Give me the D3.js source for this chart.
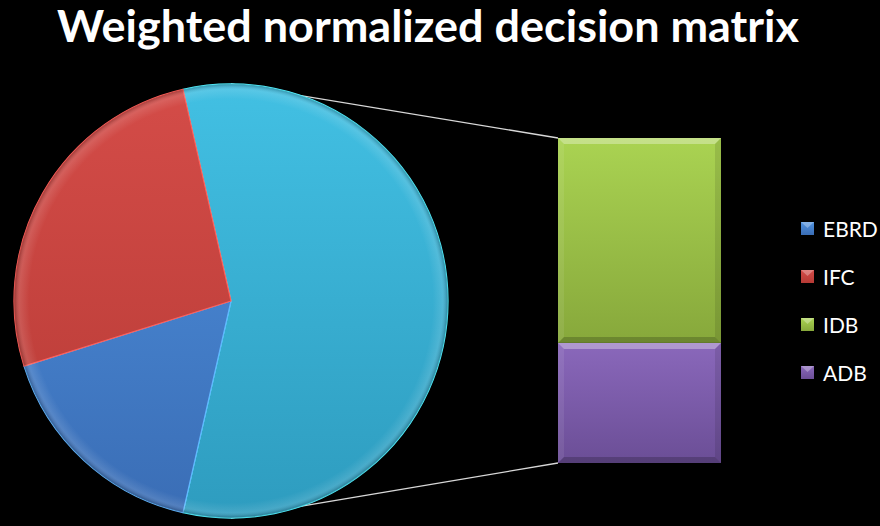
<!DOCTYPE html>
<html>
<head>
<meta charset="utf-8">
<script src="https://cdn.jsdelivr.net/npm/d3@7"></script>
<style>
  html, body { margin: 0; padding: 0; background: #000; }
  svg { display: block; }
</style>
</head>
<body>
<div id="viz"></div>
<script>
// Chart data (shares)
const pieLabels = ["Other", "EBRD", "IFC"];
const barLabels = ["ADB", "IDB"];           // stacked bottom to top
const barValues = [0.211, 0.360];
const pieValues = [d3.sum(barValues), 0.166, 0.263];
const legendLabels = ["EBRD", "IFC", "IDB", "ADB"];

const colors = {
    Other: ["#42c0e3", "#2e9cbf"],
    EBRD: ["#4f92e0", "#3a6db5"],
    IFC: ["#d44c48", "#b63a35"],
    IDB: ["#aad352", "#87a83b"],
    ADB: ["#8a68bb", "#6b4e96"]
};

const width = 880;
const height = 526;
const pieCenter = { x: 231, y: 301 };
const radius = 217;
const bar = { x0: 558, x1: 721, top: 138, bottom: 463 };

const svg = d3.select("#viz")
    .append("svg")
    .attr("width", width)
    .attr("height", height)
    .style("background", "#000");

const defs = svg.append("defs");

// Vertical gradients, light at top
Object.keys(colors).forEach(k => {
    const g = defs.append("linearGradient")
        .attr("id", "grad-" + k)
        .attr("x1", 0).attr("y1", 0).attr("x2", 0).attr("y2", 1);
    g.append("stop").attr("offset", "0%").attr("stop-color", colors[k][0]);
    g.append("stop").attr("offset", "100%").attr("stop-color", colors[k][1]);
});

// Pie slices share one gradient across the whole pie
Object.keys(colors).forEach(k => {
    const g = defs.append("linearGradient")
        .attr("id", "pgrad-" + k)
        .attr("gradientUnits", "userSpaceOnUse")
        .attr("x1", 0).attr("y1", -radius).attr("x2", 0).attr("y2", radius);
    g.append("stop").attr("offset", "0%").attr("stop-color", colors[k][0]);
    g.append("stop").attr("offset", "100%").attr("stop-color", colors[k][1]);
});

// Rim bevel for pie
const rim = defs.append("radialGradient").attr("id", "rim")
    .attr("cx", 0.5).attr("cy", 0.5).attr("r", 0.5);
rim.append("stop").attr("offset", "0.93").attr("stop-color", "#fff").attr("stop-opacity", 0);
rim.append("stop").attr("offset", "0.975").attr("stop-color", "#fff").attr("stop-opacity", 0.12);
rim.append("stop").attr("offset", "1").attr("stop-color", "#000").attr("stop-opacity", 0.25);

// Title
svg.append("text")
    .attr("x", 428)
    .attr("y", 42)
    .attr("text-anchor", "middle")
    .attr("fill", "#fff")
    .attr("font-family", "Lato, 'Open Sans', sans-serif")
    .attr("font-weight", "bold")
    .attr("font-size", 44)
    .attr("textLength", 742)
    .attr("lengthAdjust", "spacingAndGlyphs")
    .text("Weighted normalized decision matrix");

// Bar scale
const yScale = d3.scaleLinear()
    .domain([0, d3.sum(barValues)])
    .range([bar.bottom, bar.top]);

// Connector lines (behind the pie)
svg.append("g")
    .selectAll("line")
    .data([[bar.top, -radius], [bar.bottom, radius]])
    .enter().append("line")
    .attr("x1", bar.x0)
    .attr("y1", d => d[0])
    .attr("x2", pieCenter.x)
    .attr("y2", d => pieCenter.y + d[1])
    .attr("stroke", "#d8d8d8")
    .attr("stroke-width", 1.3);

// Pie
const otherShare = pieValues[0] / d3.sum(pieValues);
const start = Math.PI / 2 - Math.PI * otherShare;
const pie = d3.pie().sort(null).startAngle(start).endAngle(start + 2 * Math.PI);
const arc = d3.arc().innerRadius(0).outerRadius(radius);

const pieG = svg.append("g")
    .attr("transform", `translate(${pieCenter.x},${pieCenter.y})`);

pieG.selectAll("path.slice")
    .data(pie(pieValues))
    .enter().append("path")
    .attr("class", "slice")
    .attr("d", arc)
    .attr("fill", (d, i) => `url(#pgrad-${pieLabels[i]})`)
    .attr("stroke", (d, i) => d3.color(colors[pieLabels[i]][0]).brighter(0.6))
    .attr("stroke-width", 1.2)
    .attr("stroke-linejoin", "round");

pieG.append("circle")
    .attr("r", radius)
    .attr("fill", "url(#rim)")
    .attr("pointer-events", "none");

// Stacked bar
let acc = 0;
const stacked = barValues.map((v, i) => {
    const s = { key: barLabels[i], y0: acc, y1: acc + v };
    acc += v;
    return s;
});

const barG = svg.append("g");
const bev = 6;
stacked.forEach(s => {
    const x0 = bar.x0, x1 = bar.x1;
    const yt = yScale(s.y1), yb = yScale(s.y0);
    const g = barG.append("g");
    g.append("rect")
        .attr("x", x0).attr("y", yt)
        .attr("width", x1 - x0).attr("height", yb - yt)
        .attr("fill", `url(#grad-${s.key})`);
    // bevel edges
    const edges = [
        { pts: [[x0, yt], [x1, yt], [x1 - bev, yt + bev], [x0 + bev, yt + bev]], c: "#fff", o: 0.32 },
        { pts: [[x0, yt], [x0 + bev, yt + bev], [x0 + bev, yb - bev], [x0, yb]], c: "#fff", o: 0.08 },
        { pts: [[x1, yt], [x1, yb], [x1 - bev, yb - bev], [x1 - bev, yt + bev]], c: "#000", o: 0.1 },
        { pts: [[x0, yb], [x0 + bev, yb - bev], [x1 - bev, yb - bev], [x1, yb]], c: "#000", o: 0.2 }
    ];
    g.selectAll("polygon")
        .data(edges)
        .enter().append("polygon")
        .attr("points", d => d.pts.map(p => p.join(",")).join(" "))
        .attr("fill", d => d.c)
        .attr("fill-opacity", d => d.o);
});

// Legend
const legend = svg.append("g")
    .selectAll("g")
    .data(legendLabels)
    .enter().append("g")
    .attr("transform", (d, i) => `translate(801,${229 + i * 48})`);

legend.append("rect")
    .attr("x", 0).attr("y", -7)
    .attr("width", 13).attr("height", 13)
    .attr("fill", d => `url(#grad-${d})`);

legend.append("path")
    .attr("d", "M0,-7 L13,-7 L6.5,-1 Z")
    .attr("fill", "#fff")
    .attr("fill-opacity", 0.3);

legend.append("text")
    .attr("x", 22)
    .attr("y", 7.5)
    .attr("fill", "#fff")
    .attr("font-family", "Lato, 'Open Sans', sans-serif")
    .attr("font-size", 21)
    .text(d => d);
</script>
</body>
</html>
